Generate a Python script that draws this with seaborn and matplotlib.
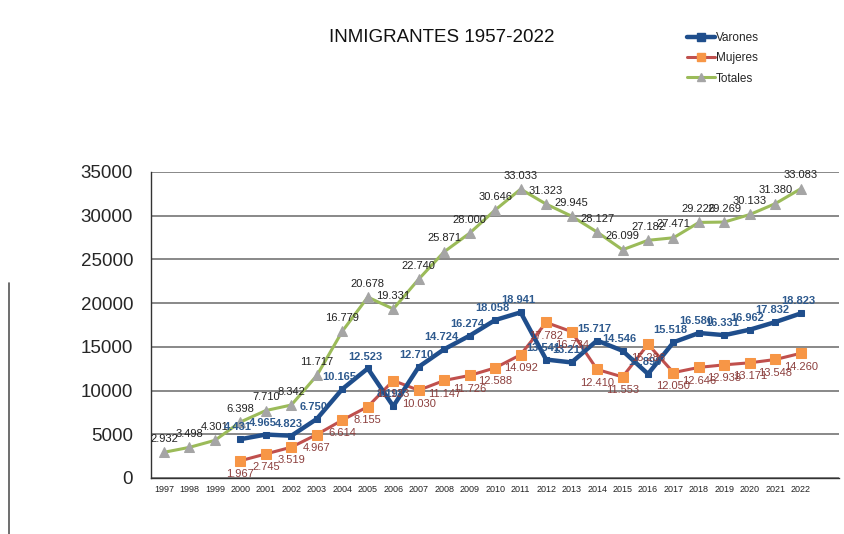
import numpy as np
import pandas as pd
import seaborn as sns
import matplotlib.pyplot as plt
from matplotlib.lines import Line2D

years = list(range(1997, 2023))
varones = [np.nan, np.nan, np.nan, 4431, 4965, 4823, 6750, 10165, 12523, 8198,
           12710, 14724, 16274, 18058, 18941, 13541, 13211, 15717, 14546, 11896,
           15518, 16580, 16331, 16962, 17832, 18823]
mujeres = [np.nan, np.nan, np.nan, 1967, 2745, 3519, 4967, 6614, 8155, 11133,
           10030, 11147, 11726, 12588, 14092, 17782, 16734, 12410, 11553, 15286,
           12050, 12646, 12938, 13171, 13548, 14260]
totales = [2932, 3498, 4301, 6398, 7710, 8342, 11717, 16779, 20678, 19331,
           22740, 25871, 28000, 30646, 33033, 31323, 29945, 28127, 26099, 27182,
           27471, 29226, 29269, 30133, 31380, 33083]

df = pd.DataFrame({"pos": range(len(years)), "Varones": varones,
                   "Mujeres": mujeres, "Totales": totales})

sns.set_style("white")
plt.rcParams['font.family'] = ['Liberation Sans', 'DejaVu Sans']

fig = plt.figure(figsize=(8.45, 5.34), dpi=100)
ax = fig.add_axes([0.179, 0.105, 0.814, 0.573])

styles = {
    "Varones": dict(color="#1F4E8C", marker="s", mfc="#1F4E8C", mec="#1F4E8C", ms=5),
    "Mujeres": dict(color="#C0504D", marker="s", mfc="#F79646", mec="#F79646", ms=6.5),
    "Totales": dict(color="#9BBB59", marker="^", mfc="#A5A5A5", mec="#A5A5A5", ms=7),
}
widths = {"Varones": 3.2, "Mujeres": 2.2, "Totales": 2.2}

for name in ["Totales", "Mujeres", "Varones"]:
    st = styles[name]
    sns.lineplot(data=df, x="pos", y=name, ax=ax, color=st["color"],
                 linewidth=widths[name], marker=st["marker"],
                 markerfacecolor=st["mfc"], markeredgecolor=st["mec"],
                 markersize=st["ms"], zorder=3)

def fmt(v):
    return f"{int(v):,}".replace(",", ".")

for i, row in df.iterrows():
    ax.annotate(fmt(row["Totales"]), (row["pos"], row["Totales"]), xytext=(0, 6),
                textcoords="offset points", ha="center", va="bottom",
                fontsize=8, color="#222222", clip_on=False)
    if not np.isnan(row["Varones"]):
        ax.annotate(fmt(row["Varones"]), (row["pos"], row["Varones"]), xytext=(-2, 5),
                    textcoords="offset points", ha="center", va="bottom",
                    fontsize=8, color="#2E5A8E", fontweight="bold")
    if not np.isnan(row["Mujeres"]):
        ax.annotate(fmt(row["Mujeres"]), (row["pos"], row["Mujeres"]), xytext=(0, -6),
                    textcoords="offset points", ha="center", va="top",
                    fontsize=8, color="#8C3F3D")

ax.set_xlim(-0.5, 26.5)
ax.set_ylim(0, 35000)
ax.set_yticks(range(0, 35001, 5000))
ax.tick_params(axis="y", labelsize=13.5, direction="out", length=5, width=1, color="#333333", pad=8)
ax.set_xticks(range(len(years)))
ax.set_xticklabels([str(y) for y in years], fontsize=6.5, color="#222222")
ax.set_xticks(np.arange(-0.5, 27, 1), minor=True)
ax.tick_params(axis="x", which="major", length=0, pad=5)
ax.tick_params(axis="x", which="minor", direction="inout", length=5, width=1, color="#333333")
ax.set_xlabel("")
ax.set_ylabel("")

ax.yaxis.grid(True, color="#7F7F7F", linewidth=1.3)
ax.set_axisbelow(True)
for s in ["top", "right"]:
    ax.spines[s].set_visible(False)
for s in ["left", "bottom"]:
    ax.spines[s].set_color("#333333")
    ax.spines[s].set_linewidth(1)

fig.text(0.523, 0.93, "INMIGRANTES 1957-2022", ha="center", va="center", fontsize=13.5, color="#111111")

handles = [Line2D([0], [0], color=styles[n]["color"], lw=widths[n], marker=styles[n]["marker"],
                  mfc=styles[n]["mfc"], mec=styles[n]["mec"], ms=6) for n in ["Varones", "Mujeres", "Totales"]]
fig.legend(handles, ["Varones", "Mujeres", "Totales"], loc="upper left",
           bbox_to_anchor=(0.8, 0.96), frameon=False, fontsize=8.5,
           handlelength=2.4, handletextpad=0.1, labelspacing=0.7)

fig.add_artist(Line2D([0.011, 0.011], [0, 0.47], color="#555555", lw=1.2))

fig.savefig("out.png", dpi=100)
